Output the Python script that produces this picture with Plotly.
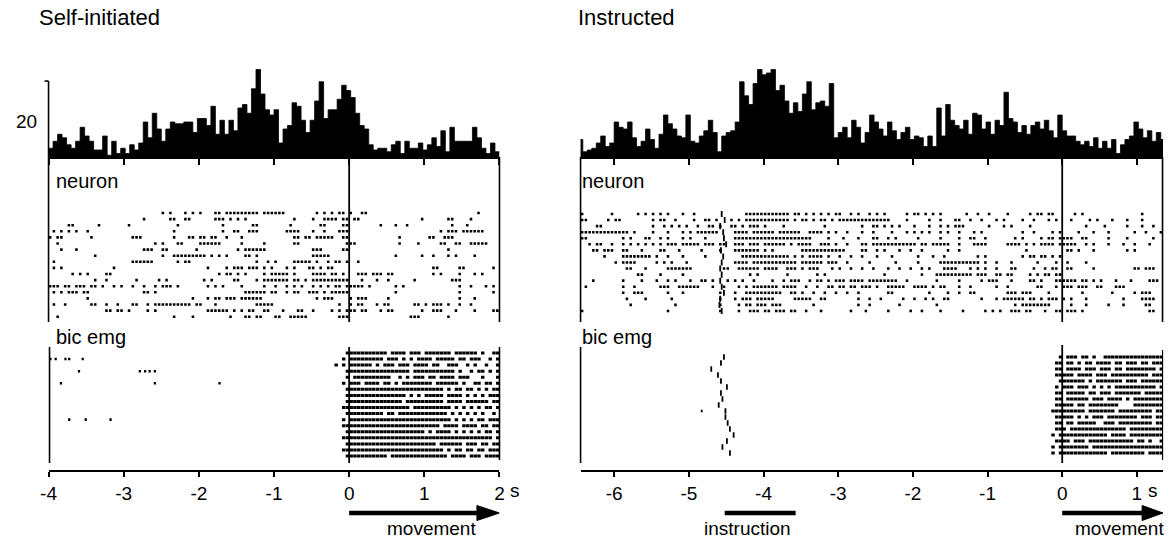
import plotly.graph_objects as go

W, H = 1170, 540
FONT = "Liberation Sans, Arial, Helvetica, sans-serif"

# ---------------- data ----------------
BIN = 0.06
HIST_LEFT_START = -4.0
hist_left = [5, 9, 13, 11, 7, 5, 9, 17, 12, 9,
             4, 4, 12, 1, 9, 2, 5, 2, 7, 4,
             8, 20, 11, 25, 16, 9, 16, 20, 19, 19,
             20, 20, 14, 22, 22, 18, 29, 13, 21, 13,
             21, 15, 28, 30, 25, 39, 50, 36, 27, 24,
             27, 8, 16, 18, 31, 29, 21, 14, 21, 32,
             43, 22, 27, 27, 33, 41, 38, 34, 25, 18,
             16, 7, 4, 5, 5, 3, 7, 9, 2, 9,
             5, 5, 8, 4, 7, 11, 6, 15, 3, 17,
             9, 9, 9, 9, 17, 11, 5, 2, 8, 3]

HIST_RIGHT_START = -6.48
hist_right = [10, 3, 4, 5, 8, 12, 6, 8, 20, 17,
              16, 20, 11, 6, 9, 16, 10, 5, 13, 24,
              19, 16, 12, 11, 24, 9, 8, 12, 15, 21,
              14, 3, 12, 14, 15, 20, 43, 35, 30, 42,
              50, 47, 48, 50, 38, 41, 32, 25, 31, 26,
              36, 43, 27, 31, 32, 29, 42, 11, 14, 17,
              11, 21, 17, 8, 14, 24, 20, 16, 12, 20,
              15, 10, 14, 17, 10, 12, 11, 6, 12, 6,
              28, 12, 30, 21, 18, 16, 21, 13, 25, 24,
              16, 20, 13, 21, 18, 37, 22, 20, 14, 18,
              13, 18, 20, 16, 21, 15, 11, 24, 15, 12,
              12, 9, 7, 9, 6, 11, 5, 9, 5, 10,
              2, 7, 10, 12, 20, 16, 11, 15, 9, 14,
              10]

# raster rows: one character per 0.05 s, '|' = spike, groups of characters
DT = 0.05
NEURON_LEFT_START = -4.0
neuron_left = [
    ".......... .......... .......... |.|...|.|. |...||.||| ||||||.||| |||....... .|.|.|.||. |..||..... .......... .......... ....|.....",
    ".......... .......... .....|.... ..||..||.. ....|||.|. |.|....... .....|.... |..||||.|| .||....... .........| ......||.. ..|.......",
    ".....||... ...|...... .|........ ....|..... ......|... ....||.... ....|..... ..||....|| ........|. ..|..|.... .......|.. .|........",
    ".|.|.|.|.. |......... .......... ...|...... ......|..| |..|||.... ...||||... |..|...||| .......... .......... ....|.|||. ||||||....",
    "|.||...... .|........ ..|||..... ...|...||. ||.||..|.. .|........ .....||.|| .|||||..|| .......... ...|...... .||..|||.. ..........",
    "..|....... .......... ........|. |...||.... ||||||.... .|.....|.. .....||... .........| ||........ ...|....|. ....||..|| ..|||||...",
    "...|...|.. .......... .....|||.. ||.......| .......... |.||||||.. .......... |||.....|| .......... .......... ......|... ..........",
    ".......... ..|....... .......... |..||||||| ||.|.|.|.. ..||.|.... .......... |||||..... .......... ..|......| ..|...|.|. ...|......",
    ".|........ .......... ..||||||.. ....|.||.. .......... .....|..|. |....||||| .|..|.||.| ..|....... .......... .......... ..........",
    ".|.|...... .......|.. .......... .......... ..|....|.| ||.|||.|.| ...|.|...| |.|.||.... .......... .......... ..||.....| |.......|.",
    "......|.|. |....||... .......... .......... .....|.||. |.|....|.| ||||.|.... ||||.||.|. ..|||.|||. ||........ ..|.|....| ...|.|....",
    ".......... ..|..|.... ...|.....| .|........ .|.|.....| |....|.||| ||||.||.|. |||||||||| ...|...|.. |......|.. .......||| ..........",
    "|||.||.||| .||.|..|.| ..|..|..|. |||.|..... ..|.|.|... .|.....|.. |..|.|.|.. |.|.|.||.| ||||.|.... ..|.|..... .........| ..|...|.|.",
    ".|.|.|||.| |......... .....||.|. .......... .......... ..||||||.| |..|.||..| ||.|.||||| .......... ..|....... .........| ........|.",
    ".......... |......... .......... ........|. ..|.||.||| .||||||... .......... .|.|||.... |.|||..... |......... .........| ...|......",
    ".|..|..... .||..|..|. ..||..|.|| ||||||||.| |...|..... .....||||| .......... .......|.. |.||...|.| |......||. |.|||.|..| ..|.......",
    ".......... .....||.|| .|....|.|. .......... ..||||||.| .|.||..||. ..|...||.. |....|.|.| ||.||...|. ||.......| ..|||...|. ...|....||",
    "..|....... .......... .......... ...|....|. ........|. ..||.||... ||..|||||. .......||| .......... ......|||. ......|... ..........",
]

NEURON_RIGHT_START = -6.45
neuron_right = [
    "|.......|. .....|.|.| .|.|...|.. |......... ....|||||| ||||||.||. |.|.|.|.|| ..|.|..|.| .|.....|.| |.|.|.|... ...|..|..| ....|..... |.||.||... ..|.|..... .......... |.........",
    "||.....|.| |........| .||..|.... |..||.|... |.|.|||||| ||||||.|.| |.|.||.|.| |||||||||| |||....|.. ...|..|... ||..|..|.. .|.|....|. .|...|.|.. .|....|.|. ..|...|... |.........",
    "....||.... .........| ..|.|.|.|. .|..||.|.. ||.|.|||.| ....|..... .....|.... .....|..|| .|.|.|...| ...|..|.|. |||......| ...|.|.... |......... .....|.... |.....|... |..|..|...",
    "|||||||||| |||.|....| ...|...|.| .||||||... .||||.|||| ||.||||||. .||||.|.|. .|...|..|. ...|...|.| .|.|..|.|. .|...|.|.. ........|. .|....|.|. ...|...|.. .|......|. .|...|....",
    "||........ .|.|...||. .|.|...|.| ...|...... .||||||||| |||||||||| ||....|... |...|...|| ..|.|..... |.....|... .|..||..|. ......|.|. ...|.||.|| ||..||.... .|....|... ...|......",
    "..|.||..|. .|.|.|.|.| .|.|||.||| ||.|||.||. .|||.|||.| |||||.|.|| ||..|||.|. .|...||.|| |||||||||| .||.|||||. .|...||||. ....||||.| .|.||||.|| |||..|.|.. .|...|..|. ..|.......",
    "...||.|||. .||...|... .||...|... ..|....|.. .|||||||.| .|.......| |||||||||| |....||..| .|...|..|. .|......|. .|........ .........| .......... ||.|...|.. ......|.|. ..........",
    "......|... .||||||||. |..|...|.. ...|...... ...||||||| ||||||.|.| .||||.|..| ..|..|...| ...|...... |...|..|.. ......|.|. ........|. ||.||.|.|. .......... .......... ..........",
    ".........| .||||..... |.|.|...|. .......... .||||.|||| ||||||||.| |||||.|||. .|.....|.. ....|..... |.....|||| |||||||.|. .|...|.... ..|....|.. |....|.... .......... ..........",
    ".......... ..||...|.. ...||||||| ........|| ..||||||.| |||..|||.| .|||...|.| ..|..|..|. ..|..|..|. .|.|...||| |...|.|.|. .|...||... .|..|.||.. ||.....|.. ........|| .|||......",
    ".......... .....||... .|.....|.. .......... .....|.|.. .....|.... ...|.|.... .......... .|........ .|...||||| |||||.|||. .||.||.... |.|.||.||. .......... .......... ..........",
    "...|...... .|....|... |..|.|...| ..||.|...| .|.|..|... .|..|.|||. .|.||.|.|| |.||||.||| |||||..|.. .....|.... .|.....|.| ||...|.... ||.|...||| |||.||.|.| ...|...|.. ..|||.....",
    ".|........ .|..|..... .|||..|||| ||...|..|. ..|.|.|||| |||.||||.. |..|..||.| |.||.|||.| ..|||||..| |||.|.||.. .|..|..... .|..|..... ..||...|.| ||.|||..|| ...|||.... ..........",
    ".......... .|..|||... ...|...|.. .......|.. .|..|||||| ||||..||.| ..|..|..|. .|..|..... ..||...... ...|....|. .|..||.... ....|||.|| |....|.... ....|..... ..|.....|. |||.......",
    ".......... ..|....|.. ....|..... .......|.. .|.|||.||| ||.....||| ||..||.... ....|..|.. |.....|..| ..|.|..||. .......|.. .|.||||||. ||.|.|||.| .|...|.... .....|.... ||||......",
    ".......... ...|...... .....|.... .......|.. ..|.||.||| .|||...... ..|....... ....|..|.. .....|.... .....|.... .......... ......|.|| ||||||.... .|...|.... .|...|.... .||.......",
    "|......... .......... ...|...... .......|.. ..|..|||.| |.|||.||.. |...|..... ..|...|... ..|.....|. .|....|... ..|.....|. |.|..|||.| |...|..||. |||.|..... .......... ..||......",
]
# instruction onset of each trial (s), right-hand neuron raster
instr_neuron_right = [-4.56, -4.52, -4.58, -4.54, -4.53, -4.50, -4.57, -4.54, -4.56,
                      -4.58, -4.56, -4.58, -4.56, -4.53, -4.58, -4.59, -4.56]

EMG_LEFT_START = -0.2
emg_left = [
    "...|||||||| |||.||||.|| |.|||||||.| |||||.|..||",
    "..|.||||||| ||.|||.|.|. ||||.|||||. ||.|||..|.|",
    "|.|.||||||. |.|||.|||.| |||.||..||| ..|.|..|..|",
    "...|||||||| |||||||||.| ||||||||||. |..|.||.|.|",
    "...|.|||||| ||||..|.|.| ||.||.||||. |||...|...|",
    "..|.|||.||| |.||.|.|||| ||||.|||||| .|..||.||.|",
    "...|||||||| ||||||||||| |||||||.|.| |.||.|.|.||",
    "...|||||||| ||||||||.|. |.|||||.||| |.|.|.|.|||",
    "...|||||||| |||||||.||| |||||||.||| |.||||||.||",
    "..||||||||| |||||||||.| |||||||||.| .|.|.|.||.|",
    "...|||||||| ||.||.||||| ||||||||.|. |.|.|.|..|.",
    "..|.||||||| ||||||||||| |||||||||.| .|.|.||.|||",
    "..||||||||| ||||||||||| ||||||.|||| .||||.||.||",
    "...|||||||| ||||||||||| ||.|.||||.| .|.|.|.||.|",
    "..||||||||| ||||||||||| ||||||||||| |||||||||.|",
    "...|||||||| ||||||||||| |||||.||||| |.|||.||.||",
    "..||||||||| ||||||||||| |||||||.|.| |.||.||.|||",
    "...|||||||| |||.||||||| ||||||||.|| ||.|||.||||",
]
# isolated EMG spikes before movement (trial, time)
emg_left_pre_trial = [2, 2, 2, 2, 2, 4, 4, 4, 4, 4, 6, 6, 6, 12, 12, 12]
emg_left_pre_time = [-3.99, -3.92, -3.79, -3.74, -3.56, -3.61, -2.80, -2.73, -2.67, -2.60,
                     -3.85, -2.60, -1.74, -3.74, -3.52, -3.19]

EMG_RIGHT_START = -0.2
emg_right = [
    "...|.|||.| |.|..||||| |||||||||| ||",
    "..||.||.|. ||.||||.|| .|||.||.|| ||",
    "..||.||||. |||.|||.|| .||||||||. ||",
    "..|||||.|| ||.|||.||| |||||||.|| ||",
    "...||||||| .|.||||||| .|||.||||| |.",
    "..|.|||.|| |.|.|.|.|| |||||||||. |.",
    "..||.||||| .||.|||.|| |||||.|||| ||",
    "..||.||||| |.|||.|||| .|.||||||| ||",
    "..|||||.|| .||||||||. ...||||||| ||",
    ".||||||||| .|||||||.| ||||||||.| ||",
    "..|||||.|. |.|||.|||| ||||.|||.| ||",
    "..||.||.|| |||..|||.| ||||||||.| ||",
    "..|||.|||| |||||||||| |.|||||||| |.",
    ".|.||||||| ||||||.||| |.|||||||| ||",
    "..||||.||| .||||||||| |||.||.|.. |.",
    ".|.||||||| |.|||||||| |||||||||| ||",
    ".|.||||||| ||||||.||| ||||||.||| ||",
]
instr_emg_right = [-4.53, -4.57, -4.70, -4.61, -4.57, -4.49, -4.57, -4.55, -4.60,
                   -4.51, -4.51, -4.48, -4.45, -4.40, -4.49, -4.55, -4.45]
emg_right_pre_trial = [10]
emg_right_pre_time = [-4.84]

ticks_left = [-4, -3, -2, -1, 0, 1, 2]
ticklabels_left = ["-4", "-3", "-2", "-1", "0", "1", "2"]
ticks_right = [-6, -5, -4, -3, -2, -1, 0, 1]
ticklabels_right = ["-6", "-5", "-4", "-3", "-2", "-1", "0", "1"]
range_left = [-4.0, 2.0]
range_right = [-6.45, 1.35]
scale_bar_value = 43.4
instruction_period = [-4.52, -3.57]

# ---------------- layout helpers (pixels) ----------------
def py(p):
    return 1 - p / H


def dom_x(p0, p1):
    return [p0 / W, p1 / W]


def dom_y(top, bottom):
    return [1 - bottom / H, 1 - top / H]


def row_range(p_first, spacing, top_px, bottom_px):
    return [1 + (bottom_px - p_first) / spacing, 1 + (top_px - p_first) / spacing]


def spike_lines(rows, t0, group, seg):
    xs, ys = [], []
    for r, row in enumerate(rows, start=1):
        for gi, g in enumerate(row.split()):
            for ci, ch in enumerate(g):
                if ch == "|":
                    t = t0 + (gi * group + ci) * DT
                    xs += [t + 0.004, t + 0.004 + seg, None]
                    ys += [r, r, None]
    return xs, ys


def tick_marks(times, rows, half=0.45):
    xs, ys = [], []
    for t, r in zip(times, rows):
        xs += [t, t, None]
        ys += [r - half, r + half, None]
    return xs, ys


def hist_step(start, vals):
    xs = [start + i * BIN for i in range(len(vals) + 1)]
    ys = list(vals) + [vals[-1]]
    return xs, ys


HIST_BASE, HIST_TOP = 157, 55
PX_PER_UNIT = 1.75
NEU_TOP, NEU_BOT = 157, 322
EMG_TOP, EMG_BOT = 343, 470
LX0, LX1 = 41, 497
RX0, RX1 = 579, 1168

fig = go.Figure()

# histograms
for xa, ya, start, vals in [("x", "y", HIST_LEFT_START, hist_left),
                            ("x4", "y4", HIST_RIGHT_START, hist_right)]:
    hx, hy = hist_step(start, vals)
    fig.add_trace(go.Scatter(x=hx, y=hy, mode="lines", line=dict(shape="hv", color="black", width=0.8),
                             fill="tozeroy", fillcolor="black", xaxis=xa, yaxis=ya, hoverinfo="skip"))

# neuron rasters
nx, ny = spike_lines(neuron_left, NEURON_LEFT_START, 10, 0.034)
fig.add_trace(go.Scatter(x=nx, y=ny, mode="lines", line=dict(color="black", width=2.6),
                         xaxis="x2", yaxis="y2", hoverinfo="skip"))
nx, ny = spike_lines(neuron_right, NEURON_RIGHT_START, 10, 0.034)
fig.add_trace(go.Scatter(x=nx, y=ny, mode="lines", line=dict(color="black", width=2.6),
                         xaxis="x5", yaxis="y5", hoverinfo="skip"))
ix, iy = tick_marks(instr_neuron_right, range(1, len(instr_neuron_right) + 1), 0.5)
fig.add_trace(go.Scatter(x=ix, y=iy, mode="lines", line=dict(color="black", width=1.8),
                         xaxis="x5", yaxis="y5", hoverinfo="skip"))

# EMG rasters
ex, ey = spike_lines(emg_left, EMG_LEFT_START, 11, 0.046)
fig.add_trace(go.Scatter(x=ex, y=ey, mode="lines", line=dict(color="black", width=3),
                         xaxis="x3", yaxis="y3", hoverinfo="skip"))
px_, py_ = [], []
for r, t in zip(emg_left_pre_trial, emg_left_pre_time):
    px_ += [t, t + 0.03, None]
    py_ += [r, r, None]
fig.add_trace(go.Scatter(x=px_, y=py_, mode="lines", line=dict(color="black", width=2.6),
                         xaxis="x3", yaxis="y3", hoverinfo="skip"))

ex, ey = spike_lines(emg_right, EMG_RIGHT_START, 10, 0.046)
fig.add_trace(go.Scatter(x=ex, y=ey, mode="lines", line=dict(color="black", width=3),
                         xaxis="x6", yaxis="y6", hoverinfo="skip"))
ix, iy = tick_marks(instr_emg_right, range(1, len(instr_emg_right) + 1), 0.45)
fig.add_trace(go.Scatter(x=ix, y=iy, mode="lines", line=dict(color="black", width=1.8),
                         xaxis="x6", yaxis="y6", hoverinfo="skip"))
px_, py_ = [], []
for r, t in zip(emg_right_pre_trial, emg_right_pre_time):
    px_ += [t, t + 0.025, None]
    py_ += [r, r, None]
fig.add_trace(go.Scatter(x=px_, y=py_, mode="lines", line=dict(color="black", width=2.6),
                         xaxis="x6", yaxis="y6", hoverinfo="skip"))

# ---------------- axes ----------------
hidden = dict(visible=False, showgrid=False, zeroline=False)


def hist_x(dom, rng, ticks, anchor):
    return dict(domain=dom, range=rng, anchor=anchor, showgrid=False, zeroline=False,
                showline=True, linecolor="black", linewidth=1.6, ticks="outside", ticklen=6,
                tickwidth=1.5, tickcolor="black", tickvals=ticks, showticklabels=False)


def bottom_x(dom, rng, ticks, labels, anchor):
    return dict(domain=dom, range=rng, anchor=anchor, showgrid=False, zeroline=False,
                showline=True, linecolor="black", linewidth=1.6, ticks="outside", ticklen=5,
                tickwidth=1.5, tickcolor="black", tickvals=ticks, ticktext=labels,
                tickfont=dict(family=FONT, size=19, color="black"))


hist_y_range = [0, (HIST_BASE - HIST_TOP) / PX_PER_UNIT]
layout_axes = dict(
    xaxis=hist_x(dom_x(LX0, LX1), range_left, ticks_left, "y"),
    yaxis=dict(hidden, domain=dom_y(HIST_TOP, HIST_BASE), range=hist_y_range, anchor="x"),
    xaxis2=dict(hidden, domain=dom_x(LX0, LX1), range=range_left, anchor="y2"),
    yaxis2=dict(hidden, domain=dom_y(NEU_TOP, NEU_BOT), range=row_range(213, 6.1, NEU_TOP, NEU_BOT), anchor="x2"),
    xaxis3=bottom_x(dom_x(LX0, LX1), range_left, ticks_left, ticklabels_left, "y3"),
    yaxis3=dict(hidden, domain=dom_y(EMG_TOP, EMG_BOT), range=row_range(353, 6.06, EMG_TOP, EMG_BOT), anchor="x3"),
    xaxis4=hist_x(dom_x(RX0, RX1), range_right, ticks_right, "y4"),
    yaxis4=dict(hidden, domain=dom_y(HIST_TOP, HIST_BASE), range=hist_y_range, anchor="x4"),
    xaxis5=dict(hidden, domain=dom_x(RX0, RX1), range=range_right, anchor="y5"),
    yaxis5=dict(hidden, domain=dom_y(NEU_TOP, NEU_BOT), range=row_range(214, 6.06, NEU_TOP, NEU_BOT), anchor="x5"),
    xaxis6=bottom_x(dom_x(RX0, RX1), range_right, ticks_right, ticklabels_right, "y6"),
    yaxis6=dict(hidden, domain=dom_y(EMG_TOP, EMG_BOT), range=row_range(357, 6.0, EMG_TOP, EMG_BOT), anchor="x6"),
)

# ---------------- shapes ----------------
shapes = []


def vline_paper(xpx, top, bottom, w=1.6):
    shapes.append(dict(type="line", xref="paper", yref="paper", x0=xpx / W, x1=xpx / W,
                       y0=py(top), y1=py(bottom), line=dict(color="black", width=w)))


def vline_data(xref, t, top, bottom, w=1.8):
    shapes.append(dict(type="line", xref=xref, yref="paper", x0=t, x1=t,
                       y0=py(top), y1=py(bottom), line=dict(color="black", width=w)))


# neuron boxes
vline_paper(LX0, NEU_TOP, 322)
vline_paper(LX1, NEU_TOP, 322)
vline_paper(RX0, NEU_TOP, 322)
vline_paper(RX1 - 0.5, NEU_TOP, 322)
vline_data("x2", 0, NEU_TOP, 322)
vline_data("x5", 0, NEU_TOP, 322)
# emg boxes
vline_paper(LX0 + 1, 347, 463)
vline_paper(LX1, 347, 460)
vline_paper(RX0, 347, 463)
vline_paper(RX1 - 0.5, 350, 460, 1.2)
vline_data("x3", 0, 347, 463)
vline_data("x6", 0, 345, 463)

# histogram scale bar (left)
shapes.append(dict(type="line", xref="paper", yref="y", x0=LX0 / W, x1=LX0 / W, y0=0, y1=scale_bar_value,
                   line=dict(color="black", width=1.6)))
shapes.append(dict(type="line", xref="paper", yref="y", x0=(LX0 - 4) / W, x1=LX0 / W,
                   y0=scale_bar_value, y1=scale_bar_value, line=dict(color="black", width=1.6)))

# arrows and instruction bar
ARROW_Y = 513


def arrow(xref, t0, t_base, t_tip):
    shapes.append(dict(type="line", xref=xref, yref="paper", x0=t0, x1=t_base, y0=py(ARROW_Y), y1=py(ARROW_Y),
                       line=dict(color="black", width=4.5)))
    shapes.append(dict(type="path", xref=xref, yref="paper",
                       path=f"M {t_base},{py(ARROW_Y - 7.5)} L {t_tip},{py(ARROW_Y)} L {t_base},{py(ARROW_Y + 7.5)} Z",
                       fillcolor="black", line=dict(color="black", width=1)))


arrow("x3", 0.0, 1.70, 2.0)
arrow("x6", 0.0, 1.07, 1.35)
shapes.append(dict(type="line", xref="x6", yref="paper", x0=instruction_period[0], x1=instruction_period[1],
                   y0=py(ARROW_Y), y1=py(ARROW_Y), line=dict(color="black", width=4.5)))

# ---------------- annotations ----------------
ann = []


def text(xpx, ypx, s, size=20, xanchor="left"):
    ann.append(dict(x=xpx / W, y=py(ypx), xref="paper", yref="paper", text=s, showarrow=False,
                    xanchor=xanchor, yanchor="middle", font=dict(family=FONT, size=size, color="black")))


text(29, 18, "Self-initiated", 22)
text(574, 18, "Instructed", 22)
text(31, 121, "20", 19, "right")
text(47, 181, "neuron")
text(578, 181, "neuron")
text(47, 337, "bic emg")
text(578, 337, "bic emg")
text(428, 528, "movement", 19, "center")
text(1124, 528, "movement", 19, "center")
text(748, 528, "instruction", 19, "center")
for xref, t in [("x3", 2), ("x6", 1)]:
    ann.append(dict(x=t, y=py(490), xref=xref, yref="paper", text="s", showarrow=False, xanchor="left",
                    yanchor="middle", xshift=9, font=dict(family=FONT, size=19, color="black")))

fig.update_layout(
    width=W, height=H, autosize=False,
    margin=dict(l=0, r=0, t=0, b=0),
    paper_bgcolor="white", plot_bgcolor="white",
    showlegend=False,
    shapes=shapes, annotations=ann,
    **layout_axes,
)

fig.write_html("out.html")
